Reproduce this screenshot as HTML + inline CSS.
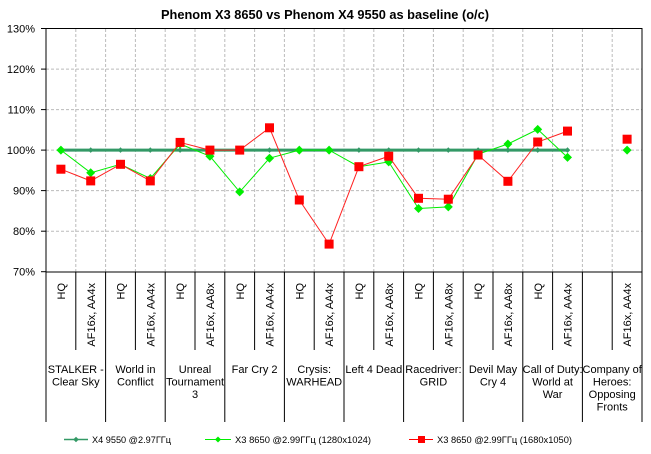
<!DOCTYPE html>
<html><head><meta charset="utf-8"><style>
html,body{margin:0;padding:0;background:#fff;}
svg{display:block;font-family:"Liberation Sans","DejaVu Sans",sans-serif;}
</style></head><body>
<svg width="651" height="454" viewBox="0 0 651 454" xmlns="http://www.w3.org/2000/svg">
<rect width="651" height="454" fill="#fff"/>
<text x="325" y="19" text-anchor="middle" font-weight="bold" font-size="12.5" textLength="328" lengthAdjust="spacingAndGlyphs">Phenom X3 8650 vs Phenom X4 9550 as baseline (o/c)</text>
<g stroke="#bbb" stroke-dasharray="3,2" stroke-width="1">
<line x1="46" x2="642" y1="69.1" y2="69.1"/>
<line x1="46" x2="642" y1="109.6" y2="109.6"/>
<line x1="46" x2="642" y1="150.1" y2="150.1"/>
<line x1="46" x2="642" y1="190.6" y2="190.6"/>
<line x1="46" x2="642" y1="231.2" y2="231.2"/>
<line x1="75.8" x2="75.8" y1="29" y2="272"/><line x1="105.6" x2="105.6" y1="29" y2="272"/>
<line x1="135.4" x2="135.4" y1="29" y2="272"/><line x1="165.2" x2="165.2" y1="29" y2="272"/>
<line x1="195" x2="195" y1="29" y2="272"/><line x1="224.8" x2="224.8" y1="29" y2="272"/>
<line x1="254.6" x2="254.6" y1="29" y2="272"/><line x1="284.4" x2="284.4" y1="29" y2="272"/>
<line x1="314.2" x2="314.2" y1="29" y2="272"/><line x1="344" x2="344" y1="29" y2="272"/>
<line x1="373.8" x2="373.8" y1="29" y2="272"/><line x1="403.6" x2="403.6" y1="29" y2="272"/>
<line x1="433.4" x2="433.4" y1="29" y2="272"/><line x1="463.2" x2="463.2" y1="29" y2="272"/>
<line x1="493" x2="493" y1="29" y2="272"/><line x1="522.8" x2="522.8" y1="29" y2="272"/>
<line x1="552.6" x2="552.6" y1="29" y2="272"/><line x1="582.4" x2="582.4" y1="29" y2="272"/>
<line x1="612.2" x2="612.2" y1="29" y2="272"/>
</g>
<rect x="46" y="28.5" width="596" height="243.5" fill="none" stroke="#000" stroke-width="1"/>
<g font-size="11" text-anchor="end">
<text x="35" y="32.5">130%</text><text x="35" y="73">120%</text><text x="35" y="113.5">110%</text>
<text x="35" y="154">100%</text><text x="35" y="194.5">90%</text><text x="35" y="235">80%</text><text x="35" y="275.5">70%</text>
</g>
<g stroke="#000" stroke-width="1">
<line x1="41" x2="46" y1="28.5" y2="28.5"/><line x1="41" x2="46" y1="69.1" y2="69.1"/><line x1="41" x2="46" y1="109.6" y2="109.6"/>
<line x1="41" x2="46" y1="150.1" y2="150.1"/><line x1="41" x2="46" y1="190.6" y2="190.6"/><line x1="41" x2="46" y1="231.2" y2="231.2"/><line x1="41" x2="46" y1="271.7" y2="271.7"/>
<line x1="46" x2="46" y1="272" y2="422"/><line x1="105.6" x2="105.6" y1="272" y2="422"/><line x1="165.2" x2="165.2" y1="272" y2="422"/>
<line x1="224.8" x2="224.8" y1="272" y2="422"/><line x1="284.4" x2="284.4" y1="272" y2="422"/><line x1="344" x2="344" y1="272" y2="422"/>
<line x1="403.6" x2="403.6" y1="272" y2="422"/><line x1="463.2" x2="463.2" y1="272" y2="422"/><line x1="522.8" x2="522.8" y1="272" y2="422"/>
<line x1="582.4" x2="582.4" y1="272" y2="422"/><line x1="642" x2="642" y1="272" y2="422"/>
<line x1="75.8" x2="75.8" y1="272" y2="350"/><line x1="135.4" x2="135.4" y1="272" y2="350"/><line x1="195" x2="195" y1="272" y2="350"/>
<line x1="254.6" x2="254.6" y1="272" y2="350"/><line x1="314.2" x2="314.2" y1="272" y2="350"/><line x1="373.8" x2="373.8" y1="272" y2="350"/>
<line x1="433.4" x2="433.4" y1="272" y2="350"/><line x1="493" x2="493" y1="272" y2="350"/><line x1="552.6" x2="552.6" y1="272" y2="350"/>
<line x1="612.2" x2="612.2" y1="272" y2="350"/>
</g>
<g font-size="11" text-anchor="end">
<text transform="translate(65,283) rotate(-90)">HQ</text>
<text transform="translate(94.8,283) rotate(-90)">AF16x, AA4x</text>
<text transform="translate(124.6,283) rotate(-90)">HQ</text>
<text transform="translate(154.4,283) rotate(-90)">AF16x, AA4x</text>
<text transform="translate(184.2,283) rotate(-90)">HQ</text>
<text transform="translate(214,283) rotate(-90)">AF16x, AA8x</text>
<text transform="translate(243.8,283) rotate(-90)">HQ</text>
<text transform="translate(273.6,283) rotate(-90)">AF16x, AA4x</text>
<text transform="translate(303.4,283) rotate(-90)">HQ</text>
<text transform="translate(333.2,283) rotate(-90)">AF16x, AA4x</text>
<text transform="translate(363,283) rotate(-90)">HQ</text>
<text transform="translate(392.8,283) rotate(-90)">AF16x, AA8x</text>
<text transform="translate(422.6,283) rotate(-90)">HQ</text>
<text transform="translate(452.4,283) rotate(-90)">AF16x, AA8x</text>
<text transform="translate(482.2,283) rotate(-90)">HQ</text>
<text transform="translate(512,283) rotate(-90)">AF16x, AA8x</text>
<text transform="translate(541.8,283) rotate(-90)">HQ</text>
<text transform="translate(571.6,283) rotate(-90)">AF16x, AA4x</text>
<text transform="translate(631.2,283) rotate(-90)">AF16x, AA4x</text>
</g>
<g font-size="11" text-anchor="middle">
<text x="75.8" y="373">STALKER -</text><text x="75.8" y="385.5">Clear Sky</text>
<text x="135.4" y="373">World in</text><text x="135.4" y="385.5">Conflict</text>
<text x="195" y="373">Unreal</text><text x="195" y="385.5">Tournament</text><text x="195" y="398">3</text>
<text x="254.6" y="373">Far Cry 2</text>
<text x="314.2" y="373">Crysis:</text><text x="314.2" y="385.5">WARHEAD</text>
<text x="373.8" y="373">Left 4 Dead</text>
<text x="433.4" y="373">Racedriver:</text><text x="433.4" y="385.5">GRID</text>
<text x="493" y="373">Devil May</text><text x="493" y="385.5">Cry 4</text>
<text x="552.6" y="373">Call of Duty:</text><text x="552.6" y="385.5">World at</text><text x="552.6" y="398">War</text>
<text x="612.2" y="373">Company of</text><text x="612.2" y="385.5">Heroes:</text><text x="612.2" y="398">Opposing</text><text x="612.2" y="410.5">Fronts</text>
</g>
<defs>
<path id="dS" d="M0,-2.8 L2.8,0 L0,2.8 L-2.8,0Z" fill="#339966"/>
<path id="dG" d="M0,-4.5 L4.5,0 L0,4.5 L-4.5,0Z" fill="#00ee00"/>
<rect id="sq" x="-4.5" y="-4.5" width="9" height="9" fill="#ff0000"/>
</defs>
<line x1="60.9" x2="567.5" y1="150.1" y2="150.1" stroke="#339966" stroke-width="3"/>
<g>
<use href="#dS" x="60.9" y="150.1"/><use href="#dS" x="90.7" y="150.1"/><use href="#dS" x="120.5" y="150.1"/><use href="#dS" x="150.3" y="150.1"/>
<use href="#dS" x="180.1" y="150.1"/><use href="#dS" x="209.9" y="150.1"/><use href="#dS" x="239.7" y="150.1"/><use href="#dS" x="269.5" y="150.1"/>
<use href="#dS" x="299.3" y="150.1"/><use href="#dS" x="329.1" y="150.1"/><use href="#dS" x="358.9" y="150.1"/><use href="#dS" x="388.7" y="150.1"/>
<use href="#dS" x="418.5" y="150.1"/><use href="#dS" x="448.3" y="150.1"/><use href="#dS" x="478.1" y="150.1"/><use href="#dS" x="507.9" y="150.1"/>
<use href="#dS" x="537.7" y="150.1"/><use href="#dS" x="567.5" y="150.1"/>
</g>
<polyline fill="none" stroke="#00ee00" stroke-width="1" points="60.9,150.1 90.7,172.8 120.5,164.3 150.3,178.5 180.1,144 209.9,156.2 239.7,191.9 269.5,158.2 299.3,150.1 329.1,150.1 358.9,166.7 388.7,161.9 418.5,208.5 448.3,206.9 478.1,154.2 507.9,144 537.7,129.4 567.5,157.4"/>
<g>
<use href="#dG" x="60.9" y="150.1"/><use href="#dG" x="90.7" y="172.8"/><use href="#dG" x="120.5" y="164.3"/><use href="#dG" x="150.3" y="178.5"/>
<use href="#dG" x="180.1" y="144"/><use href="#dG" x="209.9" y="156.2"/><use href="#dG" x="239.7" y="191.9"/><use href="#dG" x="269.5" y="158.2"/>
<use href="#dG" x="299.3" y="150.1"/><use href="#dG" x="329.1" y="150.1"/><use href="#dG" x="358.9" y="166.7"/><use href="#dG" x="388.7" y="161.9"/>
<use href="#dG" x="418.5" y="208.5"/><use href="#dG" x="448.3" y="206.9"/><use href="#dG" x="478.1" y="154.2"/><use href="#dG" x="507.9" y="144"/>
<use href="#dG" x="537.7" y="129.4"/><use href="#dG" x="567.5" y="157.4"/><use href="#dG" x="627.1" y="150.1"/>
</g>
<polyline fill="none" stroke="#ff2020" stroke-width="1" points="60.9,169.2 90.7,180.9 120.5,164.3 150.3,180.9 180.1,142.4 209.9,150.1 239.7,150.1 269.5,127.8 299.3,200 329.1,244.1 358.9,166.7 388.7,156.2 418.5,198.3 448.3,199.2 478.1,155 507.9,181.3 537.7,142 567.5,131.1"/>
<g>
<use href="#sq" x="60.9" y="169.2"/><use href="#sq" x="90.7" y="180.9"/><use href="#sq" x="120.5" y="164.3"/><use href="#sq" x="150.3" y="180.9"/>
<use href="#sq" x="180.1" y="142.4"/><use href="#sq" x="209.9" y="150.1"/><use href="#sq" x="239.7" y="150.1"/><use href="#sq" x="269.5" y="127.8"/>
<use href="#sq" x="299.3" y="200"/><use href="#sq" x="329.1" y="244.1"/><use href="#sq" x="358.9" y="166.7"/><use href="#sq" x="388.7" y="156.2"/>
<use href="#sq" x="418.5" y="198.3"/><use href="#sq" x="448.3" y="199.2"/><use href="#sq" x="478.1" y="155"/><use href="#sq" x="507.9" y="181.3"/>
<use href="#sq" x="537.7" y="142"/><use href="#sq" x="567.5" y="131.1"/><use href="#sq" x="627.1" y="139.2"/>
</g>
<g font-size="9.5">
<line x1="64" x2="88" y1="439.5" y2="439.5" stroke="#339966" stroke-width="1.5"/>
<use href="#dS" x="76" y="439.5"/>
<text x="92" y="443" textLength="79" lengthAdjust="spacingAndGlyphs">X4 9550  @2.97ГГц</text>
<line x1="205" x2="231" y1="439.5" y2="439.5" stroke="#00ee00" stroke-width="1"/>
<path d="M218,436.5 L221,439.5 L218,442.5 L215,439.5Z" fill="#00ee00"/>
<text x="235" y="443" textLength="136" lengthAdjust="spacingAndGlyphs">X3 8650  @2.99ГГц (1280x1024)</text>
<line x1="409" x2="433" y1="439.5" y2="439.5" stroke="#ff0000" stroke-width="1"/>
<rect x="418" y="436" width="7" height="7" fill="#ff0000"/>
<text x="437" y="443" textLength="135" lengthAdjust="spacingAndGlyphs">X3 8650  @2.99ГГц (1680x1050)</text>
</g>
</svg>
</body></html>
